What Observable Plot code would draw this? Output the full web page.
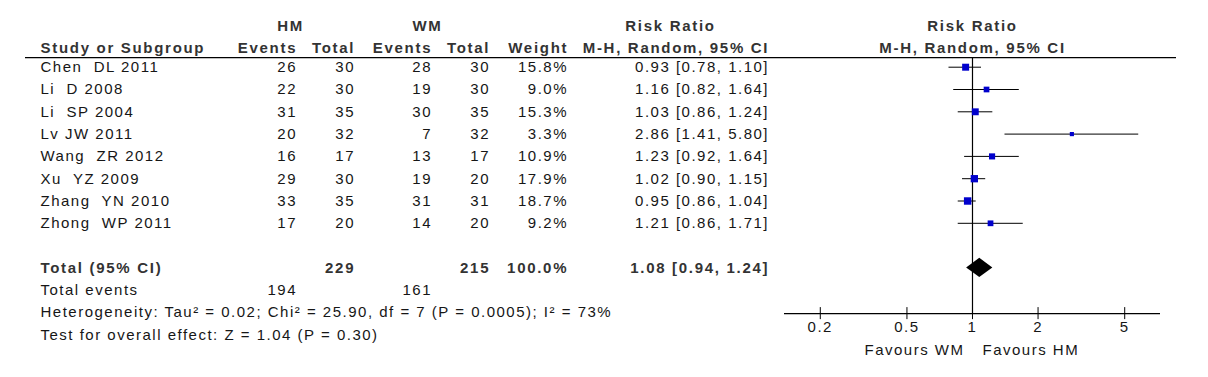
<!DOCTYPE html>
<html><head><meta charset="utf-8">
<script src="https://cdn.jsdelivr.net/npm/d3@7"></script>
<script src="https://cdn.jsdelivr.net/npm/@observablehq/plot@0.6"></script>
<style>
body{margin:0;background:#fff;}
#chart{position:relative;width:1208px;height:377px;background:#fff;}
#chart svg{position:absolute;left:0;top:0;}
#chart text{white-space:pre;}
#chart g[font-weight="bold"]{letter-spacing:1.7px;fill:#333;}
</style></head><body><div id="chart"></div>
<script>
// ---- data ----
const studies = ["Chen  DL 2011","Li  D 2008","Li  SP 2004","Lv JW 2011","Wang  ZR 2012","Xu  YZ 2009","Zhang  YN 2010","Zhong  WP 2011"];
const hmEvents = [26,22,31,20,16,29,33,17];
const hmTotal  = [30,30,35,32,17,30,35,20];
const wmEvents = [28,19,30,7,13,19,31,14];
const wmTotal  = [30,30,35,32,17,20,31,20];
const weights  = [15.8,9.0,15.3,3.3,10.9,17.9,18.7,9.2];
const riskRatio = [0.93,1.16,1.03,2.86,1.23,1.02,0.95,1.21];
const ciLow  = [0.78,0.82,0.86,1.41,0.92,0.90,0.86,0.86];
const ciHigh = [1.10,1.64,1.24,5.80,1.64,1.15,1.04,1.71];
const pooledEffect = [1.08, 0.94, 1.24];      // estimate, low, high
const totalParticipants = [229, 215];          // HM, WM
const totalWeight = [100.0];
const totalEvents = [194, 161];                // HM, WM
const groupHeaders = ["HM","WM","Risk Ratio"];
const columnHeaders = ["Study or Subgroup","Events","Total","Events","Total","Weight","M-H, Random, 95% CI"];
const forestHeaders = ["Risk Ratio","M-H, Random, 95% CI"];
const summaryLabels = ["Total (95% CI)","Total events"];
const footnotes = ["Heterogeneity: Tau\u00b2 = 0.02; Chi\u00b2 = 25.90, df = 7 (P = 0.0005); I\u00b2 = 73%","Test for overall effect: Z = 1.04 (P = 0.30)"];
const axisTicks = [0.2,0.5,1,2,5];
const favourLabels = ["Favours WM","Favours HM"];

// ---- layout ----
const W = 1208, H = 377;
const L = {
  groupRow: -1.86, headRow: -0.84, lineRow: -0.43, totalRow: 9, eventsRow: 10, footRow: 11,
  axisRow: 11.05, favRow: 12.7,
  col: {study: 40, hmE: 295, hmT: 353, wmE: 430, wmT: 488, weight: 566, ci: 767},
  groupX: [290, 427, 670],
  lineX: [25, 1176],
  forestLeft: 784, forestRight: 1160
};
const yScale = {domain: [0, 12], range: [66.7, 334.3], axis: null};
const font = {fontFamily: "'Liberation Sans', Arial, sans-serif", fontSize: "15px", letterSpacing: "1.5px", color: "#161616", background: "transparent", overflow: "visible"};

const rows = studies.map((s, i) => ({
  row: i, study: s, hmE: hmEvents[i], hmT: hmTotal[i], wmE: wmEvents[i], wmT: wmTotal[i],
  weight: weights[i], rr: riskRatio[i], lo: ciLow[i], hi: ciHigh[i]
}));
const fmtCI = (e, l, h) => `${e.toFixed(2)} [${l.toFixed(2)}, ${h.toFixed(2)}]`;
const colKeys = ["study","hmE","hmT","wmE","wmT","weight","ci"];
const headerData = columnHeaders.map((t, i) => ({t, x: L.col[colKeys[i]]}));
const groupData = groupHeaders.map((t, i) => ({t, x: L.groupX[i]}));
const totalCells = [
  {t: String(totalParticipants[0]), x: L.col.hmT},
  {t: String(totalParticipants[1]), x: L.col.wmT},
  {t: totalWeight[0].toFixed(1) + "%", x: L.col.weight},
  {t: fmtCI(...pooledEffect), x: L.col.ci}
];

const table = Plot.plot({
  width: W, height: H, margin: 0,
  style: font,
  x: {domain: [0, W], range: [0, W], axis: null},
  y: yScale,
  marks: [
    Plot.ruleY([L.lineRow], {x1: L.lineX[0], x2: L.lineX[1], stroke: "#000", strokeWidth: 1.2}),
    Plot.text(groupData, {x: "x", y: () => L.groupRow, text: "t", fontWeight: "bold", textAnchor: "middle"}),
    Plot.text(headerData.slice(0, 1), {x: "x", y: () => L.headRow, text: "t", fontWeight: "bold", textAnchor: "start"}),
    Plot.text(headerData.slice(1), {x: "x", y: () => L.headRow, text: "t", fontWeight: "bold", textAnchor: "end", dx: 1.7}),
    Plot.text(rows, {x: () => L.col.study, y: "row", text: "study", textAnchor: "start"}),
    Plot.text(rows, {x: () => L.col.hmE, y: "row", text: d => String(d.hmE), textAnchor: "end", dx: 1.5}),
    Plot.text(rows, {x: () => L.col.hmT, y: "row", text: d => String(d.hmT), textAnchor: "end", dx: 1.5}),
    Plot.text(rows, {x: () => L.col.wmE, y: "row", text: d => String(d.wmE), textAnchor: "end", dx: 1.5}),
    Plot.text(rows, {x: () => L.col.wmT, y: "row", text: d => String(d.wmT), textAnchor: "end", dx: 1.5}),
    Plot.text(rows, {x: () => L.col.weight, y: "row", text: d => d.weight.toFixed(1) + "%", textAnchor: "end", dx: 1.5}),
    Plot.text(rows, {x: () => L.col.ci, y: "row", text: d => fmtCI(d.rr, d.lo, d.hi), textAnchor: "end", dx: 1.5}),
    // total row (bold)
    Plot.text(totalCells, {x: "x", y: () => L.totalRow, text: "t", fontWeight: "bold", textAnchor: "end", dx: 1.7}),
    Plot.text([summaryLabels[0]], {x: () => L.col.study, y: () => L.totalRow, text: d => d, fontWeight: "bold", textAnchor: "start"}),
    // total events
    Plot.text([summaryLabels[1]], {x: () => L.col.study, y: () => L.eventsRow, text: d => d, textAnchor: "start"}),
    Plot.text(totalEvents, {x: (d, i) => i === 0 ? L.col.hmE : L.col.wmE, y: () => L.eventsRow, text: d => String(d), textAnchor: "end", dx: 1.5}),
    // footnotes
    Plot.text(footnotes, {x: () => L.col.study, y: (d, i) => L.footRow + i, text: d => d, textAnchor: "start"})
  ]
});

const diamond = [
  {y: L.totalRow - 0.43, x1: pooledEffect[0], x2: pooledEffect[0]},
  {y: L.totalRow, x1: pooledEffect[1], x2: pooledEffect[2]},
  {y: L.totalRow + 0.43, x1: pooledEffect[0], x2: pooledEffect[0]}
];

const forest = Plot.plot({
  width: W, height: H,
  marginLeft: L.forestLeft, marginRight: W - L.forestRight, marginTop: 0, marginBottom: 0,
  style: font,
  x: {type: "log", domain: [0.137, 7.3], axis: null},
  y: yScale,
  r: {type: "sqrt", domain: [0, 18.7], range: [1, 4.2]},
  marks: [
    Plot.ruleX([1], {y1: () => L.lineRow, y2: () => L.axisRow, stroke: "#000", strokeWidth: 1.2}),
    Plot.ruleY([L.axisRow], {stroke: "#000", strokeWidth: 1.2}),
    Plot.ruleX(axisTicks, {x: d => d, y1: () => L.axisRow - 0.27, y2: () => L.axisRow + 0.27, stroke: "#000"}),
    Plot.text(axisTicks, {x: d => d, y: () => L.axisRow, dy: 14, text: d => String(d)}),
    Plot.text([favourLabels[0]], {x: () => 1, y: () => L.favRow, text: d => d, textAnchor: "end", dx: -8}),
    Plot.text([favourLabels[1]], {x: () => 1, y: () => L.favRow, text: d => d, textAnchor: "start", dx: 10}),
    Plot.text(forestHeaders, {x: () => 1, y: (d, i) => i === 0 ? L.groupRow : L.headRow, text: d => d, fontWeight: "bold", textAnchor: "middle"}),
    Plot.ruleY(rows, {y: "row", x1: "lo", x2: "hi", stroke: "#000", strokeWidth: 1}),
    Plot.dot(rows, {x: "rr", y: "row", r: "weight", symbol: "square", fill: "#0000cc", stroke: null}),
    Plot.areaX(diamond, {y: "y", x1: "x1", x2: "x2", fill: "#000"})
  ]
});

const el = document.getElementById("chart");
el.appendChild(table);
el.appendChild(forest);
</script>
</body></html>
